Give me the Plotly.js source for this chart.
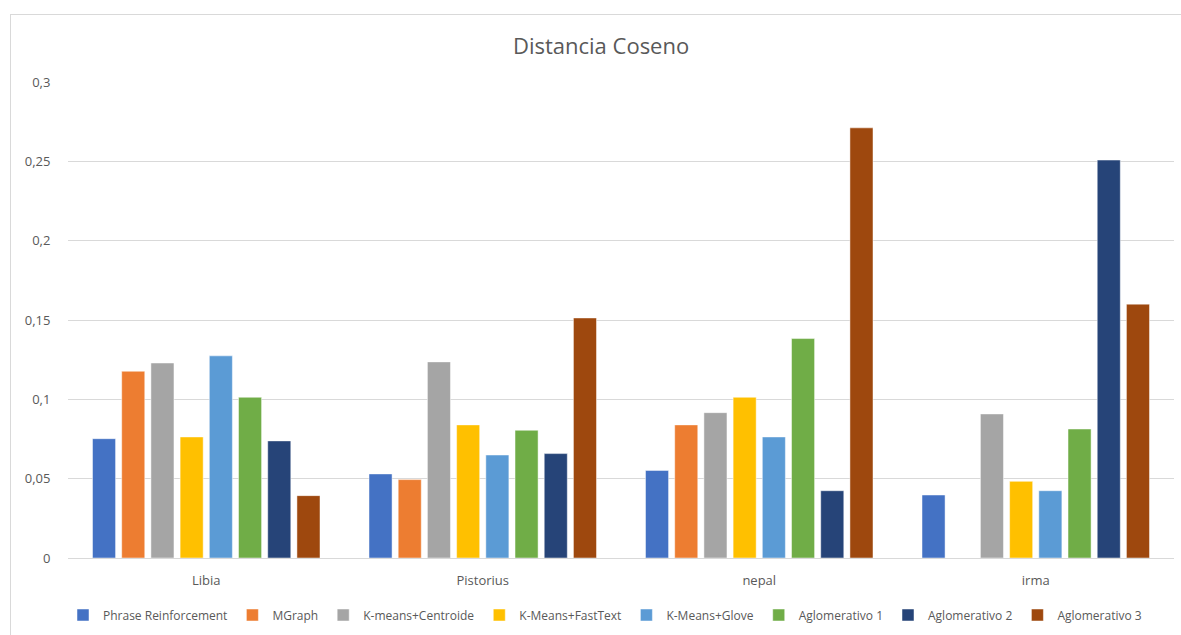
<!DOCTYPE html>
<html>
<head>
<meta charset="utf-8">
<script src="https://cdn.plot.ly/plotly-3.0.1.min.js"></script>
<style>
html,body{margin:0;padding:0;background:#fff;}
#frame{position:absolute;left:10px;top:14px;width:1200px;height:700px;border:1px solid #d9d9d9;box-sizing:border-box;}
#chart{position:absolute;left:0;top:0;width:1181px;height:635px;}
</style>
</head>
<body>
<div id="frame"></div>
<div id="chart"></div>
<script>
const categories = ["Libia", "Pistorius", "nepal", "irma"];
const seriesNames = ["Phrase Reinforcement", "MGraph", "K-means+Centroide", "K-Means+FastText", "K-Means+Glove", "Aglomerativo 1", "Aglomerativo 2", "Aglomerativo 3"];
const phraseReinforcement = [0.0752, 0.0530, 0.0552, 0.0397];
const mGraph = [0.1177, 0.0494, 0.0839, 0];
const kmeansCentroide = [0.1229, 0.1236, 0.0916, 0.0908];
const kmeansFastText = [0.0763, 0.0839, 0.1013, 0.0483];
const kmeansGlove = [0.1274, 0.0649, 0.0763, 0.0424];
const aglomerativo1 = [0.1013, 0.0805, 0.1383, 0.0813];
const aglomerativo2 = [0.0738, 0.0658, 0.0424, 0.2508];
const aglomerativo3 = [0.0393, 0.1513, 0.2711, 0.1600];
const colors = ["#4472C4", "#ED7D31", "#A5A5A5", "#FFC000", "#5B9BD5", "#70AD47", "#264478", "#9E480E"];

const allValues = [phraseReinforcement, mGraph, kmeansCentroide, kmeansFastText, kmeansGlove, aglomerativo1, aglomerativo2, aglomerativo3];
const traces = allValues.map((vals, i) => ({
  type: "bar",
  name: seriesNames[i],
  x: categories,
  y: vals,
  marker: {color: colors[i], line: {color: "rgba(255,255,255,0.6)", width: 0.8}},
  hoverinfo: "skip"
}));

const layout = {
  width: 1181, height: 635,
  paper_bgcolor: "rgba(0,0,0,0)",
  plot_bgcolor: "rgba(0,0,0,0)",
  separators: ",.",
  margin: {l: 68, r: 7, t: 82, b: 77, autoexpand: false},
  font: {family: "Open Sans, Liberation Sans, sans-serif", size: 13, color: "#595959"},
  title: {text: "Distancia Coseno", font: {size: 22, color: "#595959", family: "Open Sans, Liberation Sans, sans-serif"}, x: 0.482, xref: "paper", xanchor: "center", y: 1 - 46/635, yref: "container", yanchor: "middle"},
  barmode: "group",
  bargap: 0.155,
  bargroupgap: 0.21,
  xaxis: {
    showgrid: false, showline: false, zeroline: false,
    ticks: "outside", ticklen: 10, tickcolor: "rgba(0,0,0,0)",
    tickfont: {size: 13, color: "#595959"}
  },
  yaxis: {
    range: [0, 0.3], dtick: 0.05, tick0: 0,
    showgrid: true, gridcolor: "#d9d9d9", gridwidth: 1,
    zeroline: true, zerolinecolor: "#d9d9d9", zerolinewidth: 1,
    showline: false,
    ticks: "outside", ticklen: 14, tickcolor: "rgba(0,0,0,0)",
    tickfont: {size: 13, color: "#595959"}
  },
  showlegend: true,
  legend: {
    orientation: "h", xref: "container", x: 605/1181, xanchor: "center",
    yref: "container", y: 1 - 615/635, yanchor: "middle",
    font: {size: 12, color: "#595959"}, itemwidth: 30, traceorder: "normal",
    bgcolor: "rgba(0,0,0,0)"
  }
};

Plotly.newPlot("chart", traces, layout, {displayModeBar: false, staticPlot: true});
</script>
</body>
</html>
